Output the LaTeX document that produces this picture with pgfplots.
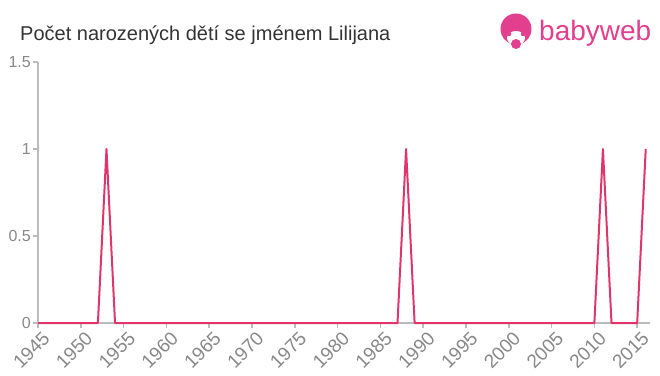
\documentclass[border=0pt]{standalone}
\usepackage{pgfplots}
\pgfplotsset{compat=1.18}
\usepackage{fontspec}
\setmainfont{Liberation Sans}
\definecolor{axisgray}{HTML}{BBBBBB}
\definecolor{labelgray}{HTML}{888888}
\definecolor{titlegray}{HTML}{333333}
\definecolor{linepink}{HTML}{E0356B}
\definecolor{logopink}{HTML}{E2408E}
\begin{document}
\begin{tikzpicture}[x=1bp,y=1bp]
\path[use as bounding box] (0,0) rectangle (660,375);
\node[anchor=base west, text=titlegray, font=\fontsize{20bp}{22bp}\selectfont, inner sep=0] at (20,335) {Počet narozených dětí se jménem Lilijana};
% logo
\fill[logopink] (516,346) circle (15.5);
\fill[white] (516,337) ellipse (9 and 7);
\fill[logopink] (516,331) circle (5);
\fill[logopink] (509,341) circle (2.2);
\fill[logopink] (523,341) circle (2.2);
\node[anchor=base west, text=logopink, font=\fontsize{28bp}{30bp}\selectfont, inner sep=0] at (539,335) {babyweb};
\begin{axis}[
  at={(38bp,52bp)}, anchor=south west,
  scale only axis, width=612bp, height=261bp,
  xmin=1945, xmax=2016.5, ymin=0, ymax=1.5,
  axis x line=bottom, axis y line=left,
  axis line style={draw=axisgray, line width=1.5bp, -},
  xtick={1945,1950,...,2015},
  ytick={0,0.5,1,1.5},
  yticklabels={0,0.5,1,1.5},
  xticklabels={1945,1950,1955,1960,1965,1970,1975,1980,1985,1990,1995,2000,2005,2010,2015},
  xticklabel style={rotate=45, anchor=north east, font=\fontsize{19bp}{21bp}\selectfont, text=labelgray, inner sep=0bp, xshift=1bp, yshift=-4bp},
  yticklabel style={font=\fontsize{16bp}{18bp}\selectfont, text=labelgray, inner sep=2bp},
  tick style={draw=axisgray, line width=1.5bp},
  major tick length=5bp,
  xtick align=outside, ytick align=outside,
  clip=false,
]
\addplot[linepink, line width=2bp, line join=round] table {
x y
1945 0
1946 0
1947 0
1948 0
1949 0
1950 0
1951 0
1952 0
1953 1
1954 0
1955 0
1956 0
1957 0
1958 0
1959 0
1960 0
1961 0
1962 0
1963 0
1964 0
1965 0
1966 0
1967 0
1968 0
1969 0
1970 0
1971 0
1972 0
1973 0
1974 0
1975 0
1976 0
1977 0
1978 0
1979 0
1980 0
1981 0
1982 0
1983 0
1984 0
1985 0
1986 0
1987 0
1988 1
1989 0
1990 0
1991 0
1992 0
1993 0
1994 0
1995 0
1996 0
1997 0
1998 0
1999 0
2000 0
2001 0
2002 0
2003 0
2004 0
2005 0
2006 0
2007 0
2008 0
2009 0
2010 0
2011 1
2012 0
2013 0
2014 0
2015 0
2016 1
};
\end{axis}
\end{tikzpicture}
\end{document}
